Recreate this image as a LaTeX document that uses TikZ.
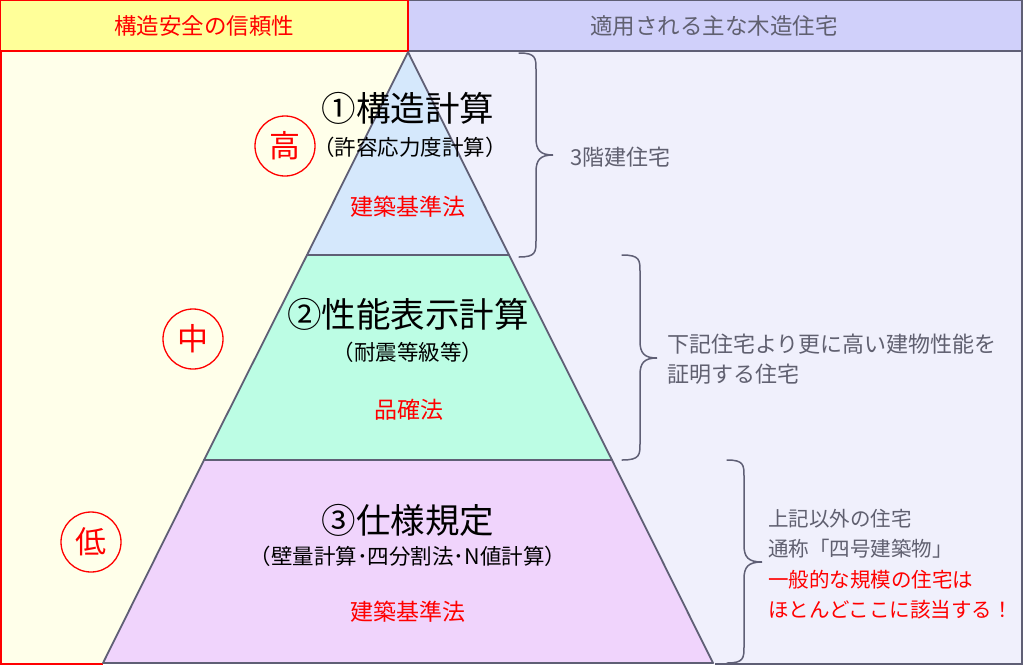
\documentclass[tikz,border=0pt]{standalone}
\usepackage{fontspec}
\setmainfont{Noto Sans CJK JP}
\definecolor{hdY}{HTML}{FFFF99}
\definecolor{hdL}{HTML}{D0D0FA}
\definecolor{bgY}{HTML}{FFFFEA}
\definecolor{bgL}{HTML}{F0F0FC}
\definecolor{lineG}{HTML}{5F5F75}
\definecolor{txtG}{HTML}{606070}
\definecolor{lay1}{HTML}{D5E8FC}
\definecolor{lay2}{HTML}{BCFDE4}
\definecolor{lay3}{HTML}{F0D4FC}
\definecolor{redR}{HTML}{FF0000}
\tikzset{
  layer/.style={draw=lineG, line width=1.8pt, line join=round},
  bigtitle/.style={font=\fontsize{34.5}{38}\selectfont, text=black, inner sep=0pt},
  subtitle/.style={font=\fontsize{21.5}{26}\selectfont, text=black, inner sep=0pt},
  lawtext/.style={font=\fontsize{23}{26}\selectfont, text=redR, inner sep=0pt},
  rank/.style={circle, draw=redR, line width=1.3pt, minimum size=60pt, inner sep=0pt, text=redR, font=\fontsize{31}{34}\selectfont},
  brace/.style={draw=lineG, line width=1.5pt, line cap=round},
  sidetext/.style={font=\fontsize{22}{30.5}\selectfont, text=txtG, align=left, anchor=west, inner sep=0pt},
  headtext/.style={font=\fontsize{22.5}{26}\selectfont, inner sep=0pt}
}
\begin{document}
\begin{tikzpicture}[x=1pt,y=-1pt]
\useasboundingbox (0,0) rectangle (1024,665);
% backgrounds
\fill[bgY] (0,51) rectangle (408,664);
\fill[bgL] (408,51) rectangle (1022,664);
\filldraw[fill=hdL, draw=lineG, line width=1.3pt] (408,0.7) rectangle (1022,51);
\filldraw[fill=hdY, draw=redR, line width=1.3pt] (0.7,0.7) rectangle (408,51);
\draw[redR, line width=1.5pt] (0.8,51) -- (0.8,664) -- (103,664);
\draw[lineG, line width=1.5pt] (715,664) -- (1022,664) -- (1022,51);
% header texts
\node[headtext, text=redR] (hl) at (204,26) {構造安全の信頼性};
\node[headtext, text=txtG] (hr) at (714,26) {適用される主な木造住宅};
% pyramid layers
\coordinate (apex) at (408,52);
\coordinate (l1L) at (307,255);
\coordinate (l1R) at (509,255);
\coordinate (l2L) at (204,460);
\coordinate (l2R) at (612,460);
\coordinate (bL) at (103,663);
\coordinate (bR) at (713,663);
\filldraw[layer, fill=lay3] (l2L) -- (l2R) -- (bR) -- (bL) -- cycle;
\filldraw[layer, fill=lay2] (l1L) -- (l1R) -- (l2R) -- (l2L) -- cycle;
\filldraw[layer, fill=lay1] (apex) -- (l1R) -- (l1L) -- cycle;
% layer texts
\node[bigtitle] (t1) at (408,108) {①構造計算};
\node[subtitle] (s1) at (410,147) {（許容応力度計算）};
\node[lawtext] (w1) at (408,207) {建築基準法};
\node[bigtitle] (t2) at (408,314) {②性能表示計算};
\node[subtitle] (s2) at (408,352) {（耐震等級等）};
\node[lawtext] (w2) at (409,410) {品確法};
\node[bigtitle] (t3) at (408,520) {③仕様規定};
\node[subtitle] (s3) at (408,556) {（壁量計算･四分割法･N値計算）};
\node[lawtext] (w3) at (408,612) {建築基準法};
% rank circles
\node[rank] (r1) at (285,146) {高};
\node[rank] (r2) at (193,339) {中};
\node[rank] (r3) at (91,542) {低};
% braces
\draw[brace] (519,53) .. controls (536,53) and (536,58) .. (536,70) -- (536,138)
  .. controls (536,150) and (540,155) .. (553,155)
  .. controls (540,155) and (536,160) .. (536,172) -- (536,240)
  .. controls (536,252) and (536,257) .. (519,257);
\draw[brace] (622,255) .. controls (640,255) and (640,260) .. (640,272) -- (640,341)
  .. controls (640,353) and (644,358) .. (657,358)
  .. controls (644,358) and (640,363) .. (640,375) -- (640,443)
  .. controls (640,455) and (640,460) .. (622,460);
\draw[brace] (727,460) .. controls (744,460) and (744,465) .. (744,477) -- (744,545)
  .. controls (744,557) and (748,562) .. (762,562)
  .. controls (748,562) and (744,567) .. (744,579) -- (744,646)
  .. controls (744,658) and (744,663) .. (727,663);
% side texts
\node[sidetext] (a1) at (570,157) {3階建住宅};
\node[sidetext] (a2) at (667,359) {下記住宅より更に高い建物性能を\\証明する住宅};
\node[sidetext, font=\fontsize{20.5}{30.5}\selectfont] (a3) at (768,564) {上記以外の住宅\\通称「四号建築物」\\\textcolor{redR}{一般的な規模の住宅は}\\\textcolor{redR}{ほとんどここに該当する！}};
\end{tikzpicture}
\end{document}
